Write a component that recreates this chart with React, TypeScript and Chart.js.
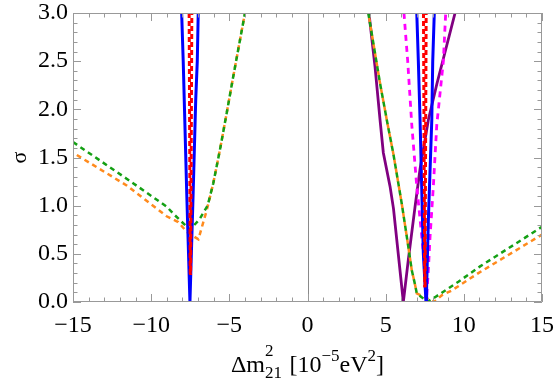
import { useEffect, useRef } from 'react';
import { Chart, registerables } from 'chart.js';

Chart.register(...registerables);

const X_MIN = -15;
const X_MAX = 15;
const Y_MIN = 0;
const Y_MAX = 3;
const xTickValues = [-15, -10, -5, 0, 5, 10, 15];
const yTickValues = [0, 0.5, 1, 1.5, 2, 2.5, 3];

// Left-side (negative Δm²) curves
const blueLeftX = [-8.05, -7.95, -7.73, -7.52, -7.31, -7.15, -7.05, -6.99];
const blueLeftY = [3.0, 2.5, 1.16, 0.0, 1.16, 2.1, 2.5, 3.0];
const redLeftAX = [-7.57, -7.53, -7.5];
const redLeftAY = [3.0, 1.5, 0.28];
const redLeftBX = [-7.4, -7.44, -7.48];
const redLeftBY = [3.0, 1.5, 0.28];
const greenLeftX = [-15, -11.57, -9.01, -8.48, -7.52, -6.9, -6.39, -6.03, -5.6, -5.17, -4.75, -4.0];
const greenLeftY = [1.66, 1.28, 0.99, 0.9, 0.75, 0.86, 1.0, 1.23, 1.58, 1.96, 2.34, 3.0];
const orangeLeftX = [-15, -11.57, -9.01, -8.27, -7.73, -6.98, -6.45, -6.03, -5.6, -5.17, -4.75, -4.0];
const orangeLeftY = [1.55, 1.21, 0.89, 0.83, 0.73, 0.65, 0.95, 1.23, 1.58, 1.96, 2.34, 3.0];

// Right-side (positive Δm²) curves
const blueRightX = [6.99, 7.09, 7.2, 7.41, 7.58, 7.62, 7.73, 7.95, 8.01, 8.11];
const blueRightY = [3.0, 2.5, 1.89, 0.5, 0.0, 0.16, 0.85, 1.89, 2.5, 3.0];
const redRightAX = [7.42, 7.46, 7.5];
const redRightAY = [3.0, 1.5, 0.15];
const redRightBX = [7.59, 7.55, 7.52];
const redRightBY = [3.0, 1.5, 0.15];
const magentaX = [6.17, 6.41, 6.67, 6.99, 7.31, 7.52, 7.6, 7.73, 7.84, 8.05, 8.27, 8.69, 8.84];
const magentaY = [3.0, 2.5, 1.84, 1.2, 0.68, 0.33, 0.0, 0.33, 0.68, 1.2, 1.84, 2.5, 3.0];
const purpleX = [3.93, 4.32, 4.64, 4.85, 5.28, 5.5, 6.13, 6.45, 6.88, 7.2, 7.73, 8.27, 9.44];
const purpleY = [3.0, 2.44, 1.89, 1.55, 1.2, 0.97, 0.0, 0.44, 0.99, 1.38, 1.89, 2.26, 3.0];
const greenRightX = [3.89, 4.64, 5.13, 5.49, 6.03, 6.35, 6.67, 6.88, 6.99, 7.3, 7.65, 8.16, 9.65, 11.04, 15];
const greenRightY = [3.0, 2.27, 1.84, 1.54, 1.02, 0.68, 0.33, 0.18, 0.09, 0.05, 0.0, 0.05, 0.21, 0.37, 0.78];
const orangeRightX = [3.89, 4.64, 5.13, 5.49, 6.03, 6.35, 6.67, 6.88, 6.99, 7.5, 8.1, 8.59, 9.23, 10.93, 15];
const orangeRightY = [3.0, 2.27, 1.84, 1.54, 1.02, 0.68, 0.33, 0.18, 0.09, 0.05, 0.0, 0.07, 0.12, 0.3, 0.7];

const BLUE = '#0000ff';
const RED = '#ff0000';
const MAGENTA = '#ff00ff';
const GREEN = '#14a014';
const ORANGE = '#ff8a1c';
const PURPLE = '#800080';
const FRAME = '#999999';
const SERIF = "'Liberation Serif', 'Times New Roman', serif";

const pts = (xs: number[], ys: number[]) => xs.map((x, i) => ({ x, y: ys[i] }));

const line = (label: string, xs: number[], ys: number[], color: string, width: number, dash: number[] = [], dashOffset = 0) => ({
  label,
  data: pts(xs, ys),
  showLine: true,
  borderColor: color,
  backgroundColor: color,
  borderWidth: width,
  borderDash: dash,
  borderDashOffset: dashOffset,
  pointRadius: 0,
  pointHoverRadius: 0,
  fill: false,
  tension: 0,
  clip: 0,
});

const fmtX = (v: number) => (v < 0 ? '\u2212' + Math.abs(v) : String(v));

const zeroPadding = (scale: any) => {
  scale.paddingLeft = 0;
  scale.paddingRight = 0;
  scale.paddingTop = 0;
  scale.paddingBottom = 0;
};

const framePlugin = {
  id: 'frameTicks',
  beforeDatasetsDraw(chart: any) {
    const { ctx, chartArea, scales } = chart;
    const x0 = Math.round(scales.x.getPixelForValue(0)) + 0.5;
    ctx.save();
    ctx.strokeStyle = '#8a8a8a';
    ctx.lineWidth = 1;
    ctx.beginPath();
    ctx.moveTo(x0, chartArea.top);
    ctx.lineTo(x0, chartArea.bottom);
    ctx.stroke();
    ctx.restore();
  },
  afterDatasetsDraw(chart: any) {
    const { ctx, chartArea, scales } = chart;
    const { left, right, top, bottom } = chartArea;
    ctx.save();
    ctx.strokeStyle = FRAME;
    ctx.lineWidth = 1;
    ctx.beginPath();
    ctx.rect(left + 0.5, top + 0.5, right - left - 1, bottom - top - 1);
    ctx.stroke();
    ctx.beginPath();
    for (let v = X_MIN; v <= X_MAX; v++) {
      const len = v % 5 === 0 ? 8 : 4.5;
      const px = Math.round(scales.x.getPixelForValue(v)) + 0.5;
      ctx.moveTo(px, bottom);
      ctx.lineTo(px, bottom - len);
      ctx.moveTo(px, top);
      ctx.lineTo(px, top + len);
    }
    for (let i = 0; i <= 30; i++) {
      const v = i / 10;
      const len = i % 5 === 0 ? 8 : 4.5;
      const py = Math.round(scales.y.getPixelForValue(v)) + 0.5;
      ctx.moveTo(left, py);
      ctx.lineTo(left + len, py);
      ctx.moveTo(right, py);
      ctx.lineTo(right - len, py);
    }
    ctx.stroke();
    ctx.restore();
  },
  afterDraw(chart: any) {
    const { ctx, chartArea } = chart;
    const big = `24px ${SERIF}`;
    const small = `17px ${SERIF}`;
    const base = 372;
    type Seg = { t: string; f: string; dy: number; stackBelow?: string; stackDy?: number };
    const segs: Seg[] = [
      { t: '\u0394m', f: big, dy: 0 },
      { t: '2', f: small, dy: -16, stackBelow: '21', stackDy: 6 },
      { t: ' [10', f: big, dy: 0 },
      { t: '\u22125', f: small, dy: -11 },
      { t: 'eV', f: big, dy: 0 },
      { t: '2', f: small, dy: -11 },
      { t: ']', f: big, dy: 0 },
    ];
    ctx.save();
    ctx.fillStyle = '#000';
    ctx.textBaseline = 'alphabetic';
    ctx.textAlign = 'left';
    const widths = segs.map((s) => {
      ctx.font = s.f;
      let w = ctx.measureText(s.t).width;
      if (s.stackBelow) w = Math.max(w, ctx.measureText(s.stackBelow).width);
      return w + (s.stackBelow ? 1.5 : 0);
    });
    const total = widths.reduce((a, b) => a + b, 0);
    let x = (chartArea.left + chartArea.right) / 2 - total / 2;
    segs.forEach((s, i) => {
      ctx.font = s.f;
      ctx.fillText(s.t, x, base + s.dy);
      if (s.stackBelow) ctx.fillText(s.stackBelow, x, base + (s.stackDy || 0));
      x += widths[i];
    });
    ctx.restore();
  },
};

export default function App() {
  const canvasRef = useRef<HTMLCanvasElement | null>(null);

  useEffect(() => {
    if (!canvasRef.current) return;
    const chart = new Chart(canvasRef.current, {
      type: 'scatter',
      data: {
        datasets: [
          line('red L a', redLeftAX, redLeftAY, RED, 3, [5, 3]),
          line('red L b', redLeftBX, redLeftBY, RED, 3, [5, 3], 3),
          line('red R a', redRightAX, redRightAY, RED, 3, [5, 3]),
          line('red R b', redRightBX, redRightBY, RED, 3, [5, 3], 3),
          line('blue L', blueLeftX, blueLeftY, BLUE, 3),
          line('blue R', blueRightX, blueRightY, BLUE, 3),
          line('magenta', magentaX, magentaY, MAGENTA, 2.8, [6, 5]),
          line('green L', greenLeftX, greenLeftY, GREEN, 2.5, [5, 4]),
          line('green R', greenRightX, greenRightY, GREEN, 2.5, [5, 4]),
          line('orange L', orangeLeftX, orangeLeftY, ORANGE, 2.5, [5, 4], 4.5),
          line('orange R', orangeRightX, orangeRightY, ORANGE, 2.5, [5, 4], 4.5),
          line('purple', purpleX, purpleY, PURPLE, 2.8),
        ],
      },
      options: {
        responsive: false,
        animation: false,
        devicePixelRatio: 1,
        layout: { padding: { left: 0, top: 13, right: 14, bottom: 0 } },
        plugins: { legend: { display: false }, tooltip: { enabled: false }, title: { display: false } },
        events: [],
        scales: {
          x: {
            type: 'linear',
            min: X_MIN,
            max: X_MAX,
            grid: { display: false, drawTicks: false },
            border: { display: false },
            afterBuildTicks: (scale: any) => {
              scale.ticks = xTickValues.map((v) => ({ value: v }));
            },
            afterFit: (scale: any) => {
              scale.height = 79;
              zeroPadding(scale);
            },
            ticks: {
              autoSkip: false,
              maxRotation: 0,
              padding: 9,
              color: '#000',
              font: { family: SERIF, size: 24 },
              callback: (v: any) => fmtX(Number(v)),
            },
            title: { display: false },
          },
          y: {
            type: 'linear',
            min: Y_MIN,
            max: Y_MAX,
            grid: { display: false, drawTicks: false },
            border: { display: false },
            afterBuildTicks: (scale: any) => {
              scale.ticks = yTickValues.map((v) => ({ value: v }));
            },
            afterFit: (scale: any) => {
              scale.width = 73;
              zeroPadding(scale);
            },
            ticks: {
              autoSkip: false,
              padding: 5,
              color: '#000',
              font: { family: SERIF, size: 24 },
              callback: (v: any) => Number(v).toFixed(1),
            },
            title: {
              display: true,
              text: '\u03c3',
              color: '#000',
              font: { family: SERIF, size: 22 },
              padding: { top: 7, bottom: 0 },
            },
          },
        },
      },
      plugins: [framePlugin],
    } as any);
    return () => chart.destroy();
  }, []);

  return (
    <div style={{ position: 'fixed', left: 0, top: 0, width: 556, height: 381, background: '#fff' }}>
      <canvas ref={canvasRef} width={556} height={381} style={{ display: 'block' }} />
    </div>
  );
}
